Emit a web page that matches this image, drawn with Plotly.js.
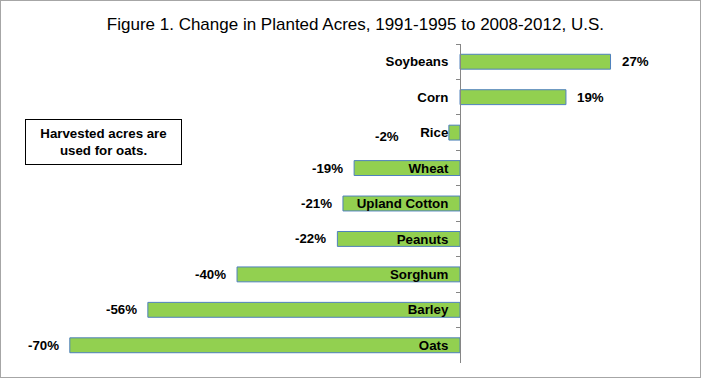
<!DOCTYPE html>
<html><head><meta charset="utf-8">
<script src="https://cdn.plot.ly/plotly-3.0.1.min.js"></script>
<style>
html,body{margin:0;padding:0;background:#fff;}
#chart{width:701px;height:378px;box-sizing:border-box;border:1px solid #a6a6a6;}
</style></head>
<body><div id="chart"></div>
<script>
const crops = ["Soybeans","Corn","Rice","Wheat","Upland Cotton","Peanuts","Sorghum","Barley","Oats"];
const changePct = [27, 19, -2, -19, -21, -22, -40, -56, -70];
const valueLabels = changePct.map(v => v + "%");
const titleText = "Figure 1. Change in Planted Acres, 1991-1995 to 2008-2012, U.S.";
const noteText = "Harvested acres are<br>used for oats.";

// styling: label offsets (pixels) for labels the original moved by hand
const labelNudge = {"Rice": {dx: -39, dy: -4}};

const font = "Liberation Sans, Arial, sans-serif";
const xRange = [-77.5, 40];
const trace = {
  type: "bar", orientation: "h",
  x: changePct, y: crops,
  width: 0.42,
  marker: {color: "#92D050", line: {color: "#4F81BD", width: 1}},
  hoverinfo: "skip"
};
const valueAnnotations = crops.map((c, i) => {
  const v = changePct[i];
  const n = labelNudge[c] || {dx: 0, dy: 0};
  return {
    xref: "x", yref: "y", x: v, y: c, text: valueLabels[i], showarrow: false,
    xanchor: v >= 0 ? "left" : "right", yanchor: "middle",
    xshift: (v >= 0 ? 9 : -9) + n.dx, yshift: n.dy,
    font: {family: font, size: 13.3, color: "#000", weight: "bold"}
  };
});
const layout = {
  width: 699, height: 376,
  margin: {l: 27, r: 17, t: 43, b: 14},
  paper_bgcolor: "#fff", plot_bgcolor: "#fff",
  showlegend: false,
  title: {text: titleText, x: 0.507, xanchor: "center", y: 0.94, yanchor: "middle",
          font: {family: font, size: 17, color: "#000"}},
  xaxis: {range: xRange, visible: false, zeroline: false, showgrid: false},
  yaxis: {type: "category", autorange: "reversed", showgrid: false, zeroline: false,
          showline: true, linecolor: "#868686", linewidth: 1,
          ticks: "outside", ticklen: 4, tickcolor: "#868686", tickson: "boundaries",
          anchor: "free", position: (0 - xRange[0]) / (xRange[1] - xRange[0]),
          ticklabelstandoff: 9,
          tickfont: {family: font, size: 13.3, color: "#000", weight: "bold"}},
  annotations: valueAnnotations.concat([{xref: "paper", yref: "paper", x: 0.115, y: 0.694,
    text: "<b>" + noteText + "</b>", showarrow: false, xanchor: "center", yanchor: "middle",
    font: {family: font, size: 13.3, color: "#000"}, align: "center",
    bordercolor: "#000", borderwidth: 1, borderpad: 6, bgcolor: "#fff", width: 143}])
};
Plotly.newPlot("chart", [trace], layout, {displayModeBar: false, staticPlot: true});
</script></body></html>
